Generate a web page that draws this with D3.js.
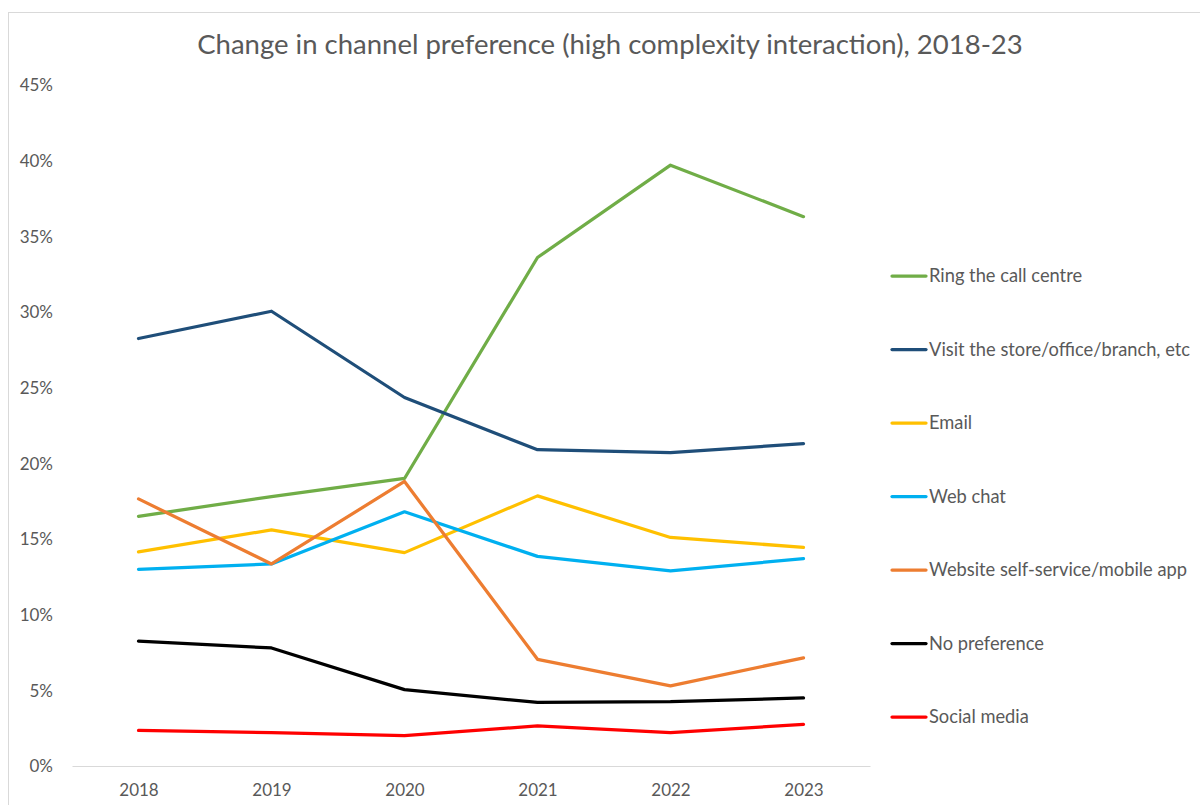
<!DOCTYPE html>
<html>
<head>
<meta charset="utf-8">
<script src="https://cdn.jsdelivr.net/npm/d3@7"></script>
<style>
  html, body { margin: 0; padding: 0; background: #fff; }
  svg { display: block; }
  text { font-family: Lato, "Open Sans", sans-serif; fill: #595959; }
</style>
</head>
<body>
<svg id="chart" width="1200" height="805"></svg>
<script>
// Survey years on the x axis
const years = ["2018", "2019", "2020", "2021", "2022", "2023"];

// Share of respondents preferring each channel (%)
const ringCallCentre = [16.5, 17.8, 19.0, 33.6, 39.7, 36.3];
const visitStore     = [28.25, 30.05, 24.35, 20.9, 20.7, 21.3];
const email          = [14.15, 15.6, 14.1, 17.85, 15.1, 14.45];
const webChat        = [13.0, 13.35, 16.8, 13.85, 12.9, 13.7];
const websiteApp     = [17.65, 13.35, 18.8, 7.05, 5.3, 7.15];
const noPreference   = [8.25, 7.8, 5.05, 4.2, 4.25, 4.5];
const socialMedia    = [2.35, 2.2, 2.0, 2.65, 2.2, 2.75];

const seriesNames = [
  "Ring the call centre",
  "Visit the store/office/branch, etc",
  "Email",
  "Web chat",
  "Website self-service/mobile app",
  "No preference",
  "Social media"
];
const seriesValues = [ringCallCentre, visitStore, email, webChat, websiteApp, noPreference, socialMedia];
const seriesColors = ["#70ad47", "#1f4e79", "#ffc000", "#00b0f0", "#ed7d31", "#000000", "#ff0000"];

const yTicks = [0, 5, 10, 15, 20, 25, 30, 35, 40, 45];

const svg = d3.select("#chart");

// Chart frame
svg.append("rect")
  .attr("x", 8.5).attr("y", 12.5)
  .attr("width", 1300).attr("height", 900)
  .attr("fill", "none").attr("stroke", "#d9d9d9").attr("stroke-width", 1);

const plot = { left: 72, right: 870, top: 85, bottom: 766 };

const x = d3.scalePoint()
  .domain(years)
  .range([plot.left, plot.right])
  .padding(0.5);

const y = d3.scaleLinear()
  .domain([0, 45])
  .range([plot.bottom, plot.top]);

// Title
svg.append("text")
  .attr("x", 610).attr("y", 54)
  .attr("text-anchor", "middle")
  .style("font-size", "27.5px")
  .text("Change in channel preference (high complexity interaction), 2018-23");

// Y axis labels (no axis line)
const yAxis = d3.axisLeft(y)
  .tickValues(yTicks)
  .tickSize(0)
  .tickPadding(0)
  .tickFormat(d => d + "%");
const yg = svg.append("g").attr("transform", `translate(53,0)`).call(yAxis);
yg.select(".domain").remove();
yg.selectAll("text")
  .style("font-size", "17px").style("font-family", "Lato, 'Open Sans', sans-serif")
  .attr("fill", "#595959").attr("dy", "0.35em");

// X axis with baseline
const xAxis = d3.axisBottom(x).tickSize(0).tickPadding(18);
const xg = svg.append("g").attr("transform", `translate(0,${plot.bottom})`).call(xAxis);
xg.select(".domain").attr("stroke", "#d9d9d9").attr("stroke-width", 1);
xg.selectAll("text")
  .style("font-size", "17px").style("font-family", "Lato, 'Open Sans', sans-serif")
  .attr("fill", "#595959");

// Series lines
const line = d3.line()
  .x((d, i) => x(years[i]))
  .y(d => y(d));

svg.append("g").selectAll("path")
  .data(seriesValues)
  .join("path")
  .attr("d", d => line(d))
  .attr("fill", "none")
  .attr("stroke", (d, i) => seriesColors[i])
  .attr("stroke-width", 3.25)
  .attr("stroke-linejoin", "round")
  .attr("stroke-linecap", "round");

// Legend
const legend = svg.append("g").attr("transform", "translate(892,276)");
const rows = legend.selectAll("g")
  .data(seriesNames)
  .join("g")
  .attr("transform", (d, i) => `translate(0,${i * 73.5})`);
rows.append("line")
  .attr("x1", 0).attr("x2", 34)
  .attr("stroke", (d, i) => seriesColors[i])
  .attr("stroke-width", 3.25)
  .attr("stroke-linecap", "round");
rows.append("text")
  .attr("x", 37).attr("dy", "0.35em")
  .style("font-size", "18.3px")
  .text(d => d);
</script>
</body>
</html>
